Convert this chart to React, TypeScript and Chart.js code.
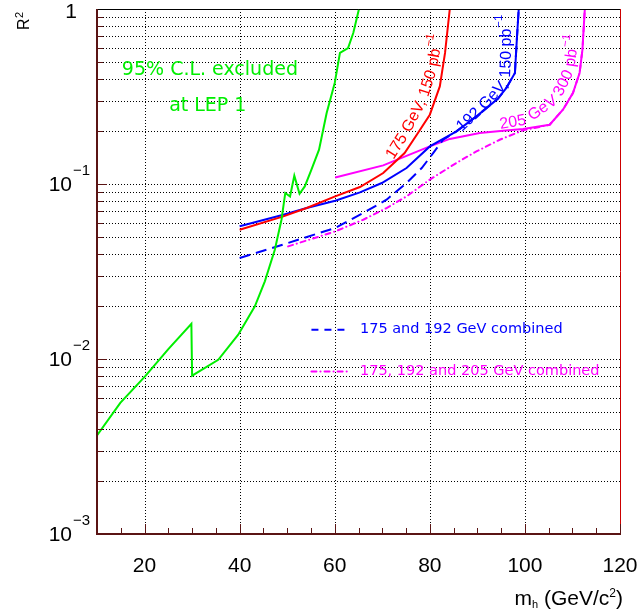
import React, { useEffect, useRef } from 'react';
import { Chart, registerables } from 'chart.js';

Chart.register(...registerables);

// ---------------- data ----------------
const lep1Mass = [10, 14.9, 20.1, 25.0, 29.85, 30.0, 35.5, 39.7, 43.2, 45.3, 47.4, 48.8, 49.6, 50.6, 51.5, 52.6, 53.7, 55.1, 56.7, 58.3, 60.0, 61.1, 62.8, 63.9, 65.1];
const lep1R2 = [0.00366, 0.00561, 0.00796, 0.0114, 0.0159, 0.00803, 0.0099, 0.01377, 0.02, 0.0278, 0.0421, 0.0625, 0.0889, 0.0849, 0.1115, 0.088, 0.0969, 0.1207, 0.157, 0.2545, 0.3776, 0.561, 0.598, 0.729, 1.0];

const mass175 = [40, 49.2, 54.1, 60.1, 65.3, 70.2, 74.7, 77.5, 80.0, 82.1, 83.2, 84.2];
const r2_175 = [0.0548, 0.0653, 0.0729, 0.0849, 0.0961, 0.1156, 0.1503, 0.1955, 0.2489, 0.361, 0.561, 1.0];

const mass192 = [40, 49.2, 54.1, 60.1, 65.3, 69.9, 75.1, 80.0, 85.6, 89.8, 94.3, 96.1, 97.9, 98.3, 98.7];
const r2_192 = [0.0573, 0.0668, 0.0729, 0.0803, 0.0895, 0.1013, 0.1234, 0.164, 0.2, 0.2434, 0.307, 0.354, 0.431, 0.667, 1.0];

const massComb175_192 = [40, 48.5, 60.1, 66.0, 70.9, 75.1, 78.3, 80.7, 82.8, 85.6, 89.8, 94.3, 96.1, 97.9, 98.3, 98.7];
const r2Comb175_192 = [0.0378, 0.0445, 0.0561, 0.0683, 0.0813, 0.1014, 0.1234, 0.15, 0.179, 0.2, 0.2434, 0.307, 0.354, 0.431, 0.667, 1.0];

const mass205 = [60.1, 70.2, 80.0, 84.2, 90.5, 95.4, 99.6, 105.2, 108.0, 110.1, 111.5, 112.1, 112.6];
const r2_205 = [0.109, 0.1277, 0.164, 0.181, 0.1955, 0.2016, 0.206, 0.218, 0.266, 0.331, 0.431, 0.585, 1.0];

const massCombAll = [50.2, 60.1, 66.0, 70.9, 75.1, 80.0, 85.6, 89.8, 94.7, 99.6, 105.2, 108.0, 110.1, 111.5, 112.1, 112.6];
const r2CombAll = [0.044, 0.0536, 0.0625, 0.0729, 0.0849, 0.106, 0.132, 0.1535, 0.179, 0.2025, 0.218, 0.266, 0.331, 0.431, 0.585, 1.0];

const xTickValues = [20, 40, 60, 80, 100, 120];
const xTickLabels = ['20', '40', '60', '80', '100', '120'];
const yDecadeValues = [1, 0.1, 0.01, 0.001];
const yDecadeBase = ['1', '10', '10', '10'];
const yDecadeExp = ['', '\u22121', '\u22122', '\u22123'];

// ---------------- styles ----------------
const GREEN = '#00ee00';
const RED = '#ff0000';
const BLUE = '#0000ff';
const MAGENTA = '#ff00ff';
const AXIS = '#5a1414';
const TICK_FONT = '"Liberation Sans", Arial, sans-serif';
const TEXT_FONT = '"DejaVu Sans", sans-serif';
const LABEL_SIZE = 16;

type Piece = { t: string; a: number; sup?: boolean };
const curveLabels: { color: string; x: number; y: number; pieces: Piece[] }[] = [
  {
    color: RED, x: 71.6, y: 0.1413,
    pieces: [
      { t: '175', a: -58 },
      { t: 'GeV,', a: -62 },
      { t: '150', a: -72 },
      { t: 'pb', a: -80 },
      { t: '\u22121', a: -80, sup: true },
    ],
  },
  {
    color: BLUE, x: 86.1, y: 0.207,
    pieces: [
      { t: '192', a: -42 },
      { t: 'GeV,', a: -47 },
      { t: '150', a: -88 },
      { t: 'pb', a: -90 },
      { t: '\u22121', a: -90, sup: true },
    ],
  },
  {
    color: MAGENTA, x: 94.7, y: 0.2183,
    pieces: [
      { t: '205', a: -10 },
      { t: 'GeV', a: -35 },
      { t: '300', a: -64 },
      { t: 'pb', a: -82 },
      { t: '\u22121', a: -82, sup: true },
    ],
  },
];

const pts = (xs: number[], ys: number[]) => xs.map((x, i) => ({ x, y: ys[i] }));

const rootPlugin = {
  id: 'rootStyle',
  beforeDatasetsDraw(chart: any) {
    const { ctx, chartArea: a, scales } = chart;
    const x = scales.x;
    const y = scales.y;
    ctx.save();
    ctx.strokeStyle = '#000';
    ctx.lineWidth = 1;
    ctx.setLineDash([1, 2]);
    for (let e = -3; e < 0; e++) {
      for (let m = 1; m <= 9; m++) {
        if (e === -3 && m === 1) continue;
        const v = m * Math.pow(10, e);
        const py = Math.round(y.getPixelForValue(v)) + 0.5;
        ctx.beginPath();
        ctx.moveTo(a.left, py);
        ctx.lineTo(a.right, py);
        ctx.stroke();
      }
    }
    for (const v of [20, 40, 60, 80, 100]) {
      const px = Math.round(x.getPixelForValue(v)) + 0.5;
      ctx.beginPath();
      ctx.moveTo(px, a.top);
      ctx.lineTo(px, a.bottom);
      ctx.stroke();
    }
    ctx.restore();
  },
  afterDatasetsDraw(chart: any) {
    const { ctx, chartArea: a, scales } = chart;
    const x = scales.x;
    const y = scales.y;
    const P = (vx: number, vy: number) => [x.getPixelForValue(vx), y.getPixelForValue(vy)];
    ctx.save();

    // frame
    ctx.setLineDash([]);
    ctx.lineWidth = 1;
    ctx.strokeStyle = '#000';
    ctx.beginPath();
    ctx.moveTo(a.left, a.top + 0.5);
    ctx.lineTo(a.right, a.top + 0.5);
    ctx.stroke();
    ctx.strokeStyle = '#cc0000';
    ctx.beginPath();
    ctx.moveTo(a.right + 0.5, a.top);
    ctx.lineTo(a.right + 0.5, a.bottom);
    ctx.stroke();
    ctx.strokeStyle = AXIS;
    ctx.lineWidth = 2;
    ctx.beginPath();
    ctx.moveTo(a.left, a.top);
    ctx.lineTo(a.left, a.bottom);
    ctx.lineTo(a.right + 1, a.bottom);
    ctx.stroke();

    // ticks
    ctx.lineWidth = 1;
    for (let e = -3; e < 0; e++) {
      for (let m = 1; m <= 9; m++) {
        const v = m * Math.pow(10, e);
        const py = Math.round(y.getPixelForValue(v)) + 0.5;
        const len = m === 1 ? 10 : 6;
        ctx.beginPath();
        ctx.moveTo(a.left, py);
        ctx.lineTo(a.left + len, py);
        ctx.stroke();
      }
    }
    for (let v = 10; v <= 120; v += 5) {
      const px = Math.round(x.getPixelForValue(v)) + 0.5;
      const len = v % 20 === 0 ? 10 : 6;
      ctx.beginPath();
      ctx.moveTo(px, a.bottom);
      ctx.lineTo(px, a.bottom - len);
      ctx.stroke();
    }

    // tick labels
    ctx.fillStyle = '#000';
    ctx.font = `21px ${TICK_FONT}`;
    ctx.textAlign = 'center';
    ctx.textBaseline = 'middle';
    xTickValues.forEach((v, i) => {
      ctx.fillText(xTickLabels[i], x.getPixelForValue(v), a.bottom + 32);
    });
    yDecadeValues.forEach((v, i) => {
      const py = y.getPixelForValue(v);
      if (!yDecadeExp[i]) {
        ctx.font = `21px ${TICK_FONT}`;
        ctx.textAlign = 'right';
        ctx.fillText(yDecadeBase[i], a.left - 20, py + 3);
        return;
      }
      ctx.font = `21px ${TICK_FONT}`;
      ctx.textAlign = 'right';
      ctx.fillText(yDecadeBase[i], a.left - 25, py + 1);
      ctx.font = `15px ${TICK_FONT}`;
      ctx.textAlign = 'left';
      ctx.fillText(yDecadeExp[i], a.left - 24, py - 13);
    });

    // axis titles
    ctx.textAlign = 'left';
    ctx.textBaseline = 'alphabetic';
    const parts: [string, number, number][] = [
      ['m', 21, 0],
      ['h', 11, 3],
      [' (GeV/c', 21, 0],
      ['2', 12, -8],
      [')', 21, 0],
    ];
    let total = 0;
    for (const [t, s] of parts) {
      ctx.font = `${s}px ${TICK_FONT}`;
      total += ctx.measureText(t).width;
    }
    let cx = a.right + 3 - total;
    const base = a.bottom + 71;
    for (const [t, s, dy] of parts) {
      ctx.font = `${s}px ${TICK_FONT}`;
      ctx.fillText(t, cx, base + dy);
      cx += ctx.measureText(t).width;
    }
    ctx.save();
    ctx.translate(23, 30);
    ctx.rotate(-Math.PI / 2);
    ctx.font = `16px ${TICK_FONT}`;
    ctx.fillText('R', 0, 6);
    const rw = ctx.measureText('R').width;
    ctx.font = `11px ${TICK_FONT}`;
    ctx.fillText('2', rw + 0.5, -0.5);
    ctx.restore();

    // green annotation
    ctx.fillStyle = GREEN;
    ctx.font = `19px ${TEXT_FONT}`;
    ctx.textAlign = 'left';
    ctx.textBaseline = 'middle';
    let p = P(15.23, 0.4498);
    ctx.fillText('95% C.L. excluded', p[0], p[1]);
    p = P(25.17, 0.2776);
    ctx.fillText('at LEP 1', p[0], p[1]);

    // curve labels, laid out piece by piece along the curves
    ctx.textAlign = 'center';
    ctx.textBaseline = 'middle';
    ctx.font = `${LABEL_SIZE}px ${TICK_FONT}`;
    const spaceW = ctx.measureText(' ').width;
    for (const lab of curveLabels) {
      ctx.fillStyle = lab.color;
      let [px, py] = P(lab.x, lab.y);
      let first = true;
      for (const pc of lab.pieces) {
        const th = (pc.a * Math.PI) / 180;
        const c = Math.cos(th);
        const s = Math.sin(th);
        ctx.font = `${pc.sup ? 11.5 : LABEL_SIZE}px ${TICK_FONT}`;
        const w = ctx.measureText(pc.t).width;
        if (!first && !pc.sup) {
          px += spaceW * c;
          py += spaceW * s;
        }
        const mx = px + (w / 2) * c;
        const my = py + (w / 2) * s;
        ctx.save();
        ctx.translate(mx, my);
        ctx.rotate(th);
        ctx.fillText(pc.t, pc.sup ? 1 : 0, pc.sup ? -7.5 : 0);
        ctx.restore();
        px += w * c;
        py += w * s;
        first = false;
      }
    }

    // legend
    ctx.lineWidth = 2;
    ctx.strokeStyle = BLUE;
    ctx.setLineDash([7, 6]);
    let l1 = P(55.1, 0.0147);
    let l2 = P(62.1, 0.0147);
    ctx.beginPath();
    ctx.moveTo(l1[0], l1[1]);
    ctx.lineTo(l2[0], l2[1]);
    ctx.stroke();
    ctx.strokeStyle = MAGENTA;
    ctx.lineCap = 'round';
    ctx.setLineDash([5, 4, 0.1, 4]);
    l1 = P(55.1, 0.00847);
    l2 = P(63.2, 0.00847);
    ctx.beginPath();
    ctx.moveTo(l1[0], l1[1]);
    ctx.lineTo(l2[0], l2[1]);
    ctx.stroke();
    ctx.setLineDash([]);
    ctx.textAlign = 'left';
    ctx.font = `14.5px ${TEXT_FONT}`;
    ctx.fillStyle = BLUE;
    p = P(65.3, 0.0147);
    ctx.fillText('175 and 192 GeV combined', p[0], p[1]);
    ctx.fillStyle = MAGENTA;
    p = P(65.3, 0.00847);
    ctx.fillText('175, 192 and 205 GeV combined', p[0], p[1]);

    ctx.restore();
  },
};

export default function App() {
  const ref = useRef<HTMLCanvasElement | null>(null);
  useEffect(() => {
    if (!ref.current) return;
    const chart = new Chart(ref.current, {
      type: 'line',
      data: {
        datasets: [
          { data: pts(lep1Mass, lep1R2), borderColor: GREEN, borderWidth: 2 },
          { data: pts(mass175, r2_175), borderColor: RED, borderWidth: 2 },
          { data: pts(mass192, r2_192), borderColor: BLUE, borderWidth: 2 },
          { data: pts(massComb175_192, r2Comb175_192), borderColor: BLUE, borderWidth: 2, borderDash: [11, 6] },
          { data: pts(mass205, r2_205), borderColor: MAGENTA, borderWidth: 2 },
          { data: pts(massCombAll, r2CombAll), borderColor: MAGENTA, borderWidth: 2, borderDash: [5, 4, 0.1, 4], borderCapStyle: 'round' },
        ] as any,
      },
      options: {
        animation: false,
        responsive: false,
        devicePixelRatio: 1,
        layout: { padding: { top: 9, right: 21, left: 0, bottom: 0 } },
        plugins: { legend: { display: false }, tooltip: { enabled: false } },
        elements: { point: { radius: 0 }, line: { tension: 0, fill: false } },
        scales: {
          x: {
            type: 'linear',
            min: 10,
            max: 120,
            grid: { display: false },
            border: { display: false },
            ticks: { display: false },
            afterFit: (s: any) => { s.height = 79; },
          },
          y: {
            type: 'logarithmic',
            min: 0.001,
            max: 1,
            grid: { display: false },
            border: { display: false },
            ticks: { display: false },
            afterFit: (s: any) => { s.width = 97; },
          },
        },
      } as any,
      plugins: [rootPlugin],
    });
    return () => chart.destroy();
  }, []);
  return (
    <div style={{ position: 'absolute', left: 0, top: 0, width: 641, height: 613, background: '#fff' }}>
      <canvas ref={ref} width={641} height={613} style={{ display: 'block' }} />
    </div>
  );
}
